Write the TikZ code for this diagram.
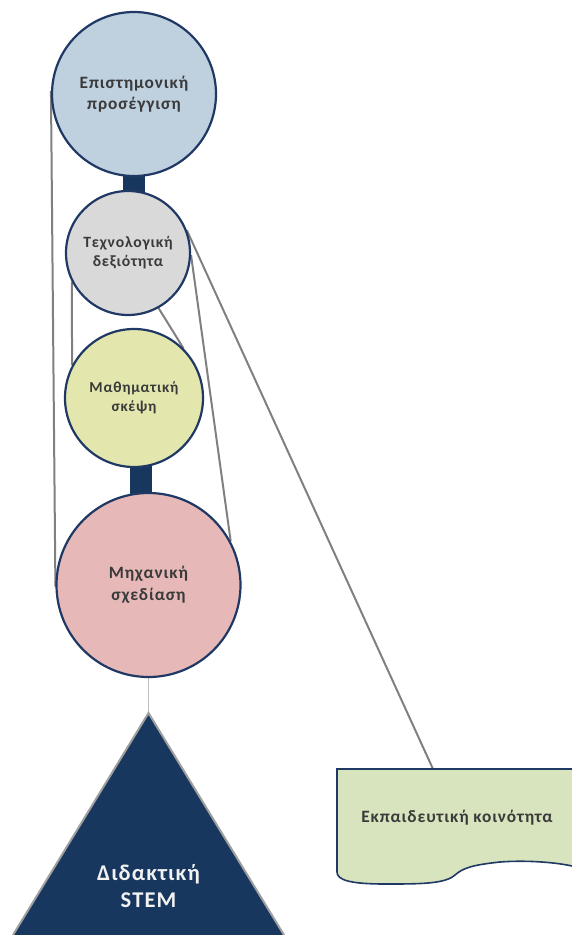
\documentclass[tikz,border=0pt]{standalone}
\usepackage{fontspec}
\setmainfont{Carlito}[LetterSpace=5]
\usetikzlibrary{calc}
\definecolor{navy}{HTML}{1F3864}
\definecolor{barnavy}{HTML}{17375E}
\definecolor{linegray}{HTML}{808080}
\definecolor{lightline}{HTML}{BFBFBF}
\definecolor{txt}{HTML}{3A3A3A}
\definecolor{fillA}{HTML}{BFD0DF}
\definecolor{fillB}{HTML}{D9D9D9}
\definecolor{fillC}{HTML}{E3E7AE}
\definecolor{fillD}{HTML}{E6B9B8}
\definecolor{fillE}{HTML}{D7E4BD}
\pgfdeclarelayer{bg}
\pgfsetlayers{bg,main}
\begin{document}
\begin{tikzpicture}[x=1pt,y=-1pt,
  bubble/.style={circle,draw=navy,line width=2.2pt,inner sep=0pt,text=txt,align=center},
  link/.style={draw=linegray,line width=2pt},
  bar/.style={draw=barnavy,line width=22pt}]
\useasboundingbox (0,0) rectangle (572,935);
% circles
\node[bubble,fill=fillA,minimum size=164pt,font=\bfseries\fontsize{17.3}{20.5}\selectfont] (c1) at (134,94) {Επιστημονική\\προσέγγιση};
\node[bubble,fill=fillB,minimum size=124pt,font=\bfseries\fontsize{15.7}{19}\selectfont] (c2) at (128,253) {Τεχνολογική\\δεξιότητα};
\node[bubble,fill=fillC,minimum size=138pt,font=\bfseries\fontsize{15.2}{18.7}\selectfont] (c3) at (134,398) {Μαθηματική\\σκέψη};
\node[bubble,fill=fillD,minimum size=184pt,font=\bfseries\fontsize{17.3}{22}\selectfont] (c4) at (148.5,585) {Μηχανική\\σχεδίαση};
% triangle
\coordinate (apex) at (148.5,713);
\fill[barnavy] (apex) -- (284,935) -- (13,935) -- cycle;
\draw[line width=2pt,draw=gray!75] (13,935) -- (apex) -- (284,935);
\node[text=white!95!black,font=\bfseries\fontsize{22.5}{27}\selectfont,align=center] (tri) at (148.5,886) {Διδακτική\\STEM};
% document box
\draw[fill=fillE,draw=navy,line width=1.6pt] (337,769) -- (580,769) -- (580,868)
  .. controls (560,862) and (525,860) .. (500,862)
  .. controls (472,865) and (463,868) .. (455,875)
  .. controls (445,884) and (420,884) .. (385,884)
  .. controls (350,884) and (337,880) .. (337,872) -- cycle;
\node[text=txt,font=\bfseries\fontsize{17.3}{20}\selectfont] (edu) at (457,818) {Εκπαιδευτική κοινότητα};
\coordinate (boxtop) at (433,769);
% connectors behind
\begin{pgfonlayer}{bg}
\draw[bar] (c1.center) -- (c1.center |- c2.center);
\draw[bar] ([xshift=7pt]c3.center) -- ([xshift=-7.5pt]c4.center);
\draw[link] (c1.178) -- (c4.181);
\draw[link] (c2.207) -- (c3.152);
\draw[link] (c2.299) -- (c3.45);
\draw[link] (c2.358) -- (c4.28);
\draw[link] (c2.21) -- (boxtop);
\draw[draw=lightline,line width=1.5pt] (c4.south) -- (apex);
\end{pgfonlayer}
\end{tikzpicture}
\end{document}
